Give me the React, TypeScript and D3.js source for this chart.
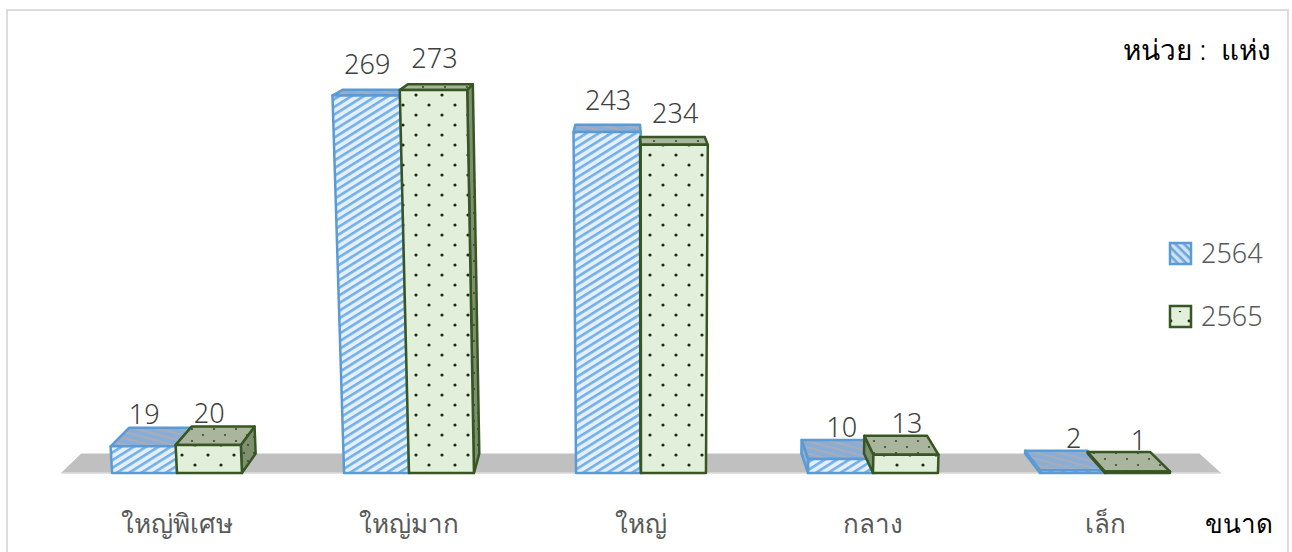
// App.tsx
import React from 'react';
import * as d3 from 'd3';

const categories = ['ใหญ่พิเศษ', 'ใหญ่มาก', 'ใหญ่', 'กลาง', 'เล็ก'];
const seriesNames = ['2564', '2565'];
const values2564 = [19, 269, 243, 10, 2];
const values2565 = [20, 273, 234, 13, 1];
const seriesValues = [values2564, values2565];

const width = 1292;
const height = 552;
const baseY = 473;
const font = '"Noto Sans", "Open Sans", sans-serif';

const x = d3.scaleBand<string>()
  .domain(categories)
  .range([61, 1221])
  .paddingInner(0.44)
  .paddingOuter(0.22);

const xSub = d3.scaleBand<string>()
  .domain(seriesNames)
  .range([0, x.bandwidth()]);

const y = d3.scaleLinear().domain([0, 273]).range([baseY, 90]);

// 3D projection: bars lean away from the middle as they rise, depth runs to a vanishing point
const spreadCx = 650;
const spreadK = 0.0001;
const vx = 623;
const vy = -70;
const depth = 0.036;

const project = (px: number, value: number, z: number): [number, number] => {
  const py = y(value);
  const sx = spreadCx + (px - spreadCx) * (1 + spreadK * (baseY - py));
  return [sx + (vx - sx) * depth * z, py + (vy - py) * depth * z];
};

const poly = (pts: [number, number][]) => d3.line()(pts)! + 'Z';

const blue = { stroke: '#5b9bd5', front: 'url(#stripeFront)', top: 'url(#stripeTop)', side: 'url(#stripeTop)', key: 'url(#stripeKey)' };
const green = { stroke: '#375623', front: 'url(#dotFront)', top: 'url(#dotTop)', side: 'url(#dotSide)', key: 'url(#dotKey)' };
const looks = [blue, green];

const Bar: React.FC<{ cat: string; s: number; value: number }> = ({ cat, s, value }) => {
  const x0 = x(cat)! + xSub(seriesNames[s])!;
  const x1 = x0 + xSub.bandwidth();
  const look = looks[s];
  const fl = project(x0, value, 0);
  const fr = project(x1, value, 0);
  const bl = project(x0, value, 1);
  const br = project(x1, value, 1);
  const b0 = project(x0, 0, 0);
  const b1 = project(x1, 0, 0);
  const bb0 = project(x0, 0, 1);
  const bb1 = project(x1, 0, 1);
  // which side shows depends on where the bar sits against the vanishing point
  const side = x1 < vx
    ? poly([fr, br, bb1, b1])
    : x0 > vx ? poly([fl, bl, bb0, b0]) : null;
  const common = { stroke: look.stroke, strokeWidth: 2.5, strokeLinejoin: 'round' as const };
  return (
    <g>
      {side && <path d={side} fill={look.side} {...common} />}
      <path d={poly([fl, fr, br, bl])} fill={look.top} {...common} />
      <path d={poly([fl, fr, b1, b0])} fill={look.front} {...common} />
    </g>
  );
};

const App: React.FC = () => {
  const [floorL, floorR] = x.range();
  const floor = poly([
    project(floorL, 0, 0),
    project(floorR, 0, 0),
    project(floorR, 0, 1),
    project(floorL, 0, 1),
  ]);

  return (
    <svg width={width} height={height} style={{ position: 'absolute', left: 0, top: 0 }} fontFamily={font}>
      <defs>
        <pattern id="stripeFront" patternUnits="userSpaceOnUse" width="6.5" height="6.5" patternTransform="rotate(-32)">
          <rect width="6.5" height="6.5" fill="#e3effa" />
          <rect width="6.5" height="2.6" fill="#74b0e8" />
        </pattern>
        <pattern id="stripeTop" patternUnits="userSpaceOnUse" width="6" height="6" patternTransform="rotate(15)">
          <rect width="6" height="6" fill="#86aed8" />
          <rect width="6" height="2.2" fill="#a9acb6" />
        </pattern>
        <pattern id="stripeKey" patternUnits="userSpaceOnUse" width="6" height="6" patternTransform="rotate(45)">
          <rect width="6" height="6" fill="#cfe2f5" />
          <rect width="6" height="2.6" fill="#6ea6dc" />
        </pattern>
        <pattern id="dotFront" patternUnits="userSpaceOnUse" width="26" height="20">
          <rect width="26" height="20" fill="#e2efda" />
          <circle cx="13" cy="5" r="1.6" fill="#1c2a12" />
          <circle cx="0" cy="15" r="1.6" fill="#1c2a12" />
          <circle cx="26" cy="15" r="1.6" fill="#1c2a12" />
        </pattern>
        <pattern id="dotTop" patternUnits="userSpaceOnUse" width="22" height="12">
          <rect width="22" height="12" fill="#a9b59c" />
          <circle cx="5" cy="3" r="1.1" fill="#3a4a2e" />
          <circle cx="16" cy="9" r="1.1" fill="#3a4a2e" />
        </pattern>
        <pattern id="dotSide" patternUnits="userSpaceOnUse" width="10" height="16">
          <rect width="10" height="16" fill="#7f9070" />
          <circle cx="4" cy="5" r="0.9" fill="#2d3b22" />
          <circle cx="8" cy="13" r="0.9" fill="#2d3b22" />
        </pattern>
        <pattern id="dotKey" patternUnits="userSpaceOnUse" width="18" height="20" patternTransform="translate(1171 311)">
          <rect width="18" height="20" fill="#e2efda" />
          <circle cx="9" cy="0" r="1.2" fill="#1c2a12" />
          <circle cx="0" cy="10" r="1.4" fill="#1c2a12" />
          <circle cx="18" cy="10" r="1.4" fill="#1c2a12" />
        </pattern>
      </defs>

      <rect x={0} y={0} width={width} height={height} fill="#ffffff" />
      <rect x={7} y={10} width={1281} height={560} fill="none" stroke="#dcdcdc" strokeWidth={2} />

      <path d={floor} fill="#c0c0c0" />
      <line
        x1={project(floorL, 0, 0)[0]}
        x2={project(floorR, 0, 0)[0]}
        y1={baseY}
        y2={baseY}
        stroke="#dadada"
        strokeWidth={1.5}
      />

      {categories.map((cat, i) => (
        <g key={cat}>
          {seriesNames.map((name, s) => (
            <Bar key={name} cat={cat} s={s} value={seriesValues[s][i]} />
          ))}
        </g>
      ))}

      {categories.map((cat, i) => seriesNames.map((name, s) => {
        const v = seriesValues[s][i];
        const cx = x(cat)! + xSub(name)! + xSub.bandwidth() / 2;
        const [lx, ly] = project(cx, v, 0);
        return (
          <text key={cat + name} x={lx + 1} y={ly - 22} textAnchor="middle" fontSize={27} fontWeight={300} fill="#404040">
            {v}
          </text>
        );
      }))}

      {categories.map(cat => (
        <text key={cat} x={x(cat)! + x.bandwidth() / 2} y={533} textAnchor="middle" fontSize={26} fontWeight={300} fill="#595959">
          {cat}
        </text>
      ))}

      {seriesNames.map((name, s) => {
        const ly = d3.scalePoint<string>().domain(seriesNames).range([253, 316])(name)!;
        return (
          <g key={name}>
            <rect x={1170} y={ly - 10} width={21} height={21} fill={looks[s].key} stroke={looks[s].stroke} strokeWidth={2.5} />
            <text x={1201} y={ly + 10} fontSize={27} fontWeight={300} fill="#595959">{name}</text>
          </g>
        );
      })}

      <text x={1271} y={60} textAnchor="end" fontSize={28} fontWeight={300} fill="#000000" xmlSpace="preserve">หน่วย :  แห่ง</text>
      <text x={1273} y={533} textAnchor="end" fontSize={26} fontWeight={400} fill="#000000">ขนาด</text>
    </svg>
  );
};

export default App;
